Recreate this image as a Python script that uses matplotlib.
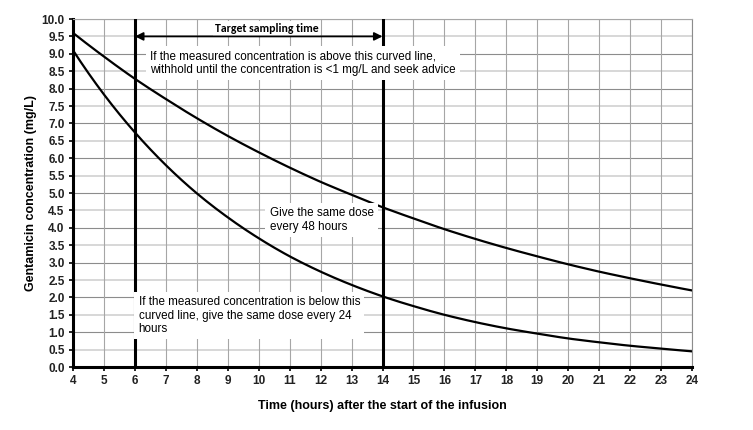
import numpy as np
import matplotlib.pyplot as plt

# hours after start of infusion
hours = [4, 5, 6, 7, 8, 9, 10, 11, 12, 13, 14, 15, 16, 17, 18, 19, 20, 21, 22, 23, 24]
# upper curve (withhold above this line)
upper = [9.60, 8.92, 8.28, 7.70, 7.15, 6.64, 6.17, 5.73, 5.32, 4.95, 4.59,
         4.27, 3.96, 3.68, 3.42, 3.18, 2.95, 2.74, 2.55, 2.37, 2.20]
# lower curve (24-hourly dosing below this line)
lower = [9.10, 7.83, 6.74, 5.80, 4.99, 4.30, 3.70, 3.18, 2.74, 2.36, 2.03,
         1.75, 1.50, 1.29, 1.11, 0.96, 0.82, 0.71, 0.61, 0.53, 0.45]
window = [6, 14]
yticks = np.arange(0, 10.01, 0.5)

plt.rcParams['font.family'] = ['Liberation Sans', 'DejaVu Sans']
fig = plt.figure(figsize=(7.53, 4.30), dpi=100)
ax = fig.add_axes([0.097, 0.1465, 0.822, 0.8093])

# smooth the curves through the read points
t = np.linspace(4, 24, 400)
up_s = np.exp(np.interp(t, hours, np.log(upper)))
lo_s = np.exp(np.interp(t, hours, np.log(lower)))
ax.plot(t, up_s, color='black', lw=1.6, zorder=3)
ax.plot(t, lo_s, color='black', lw=1.6, zorder=3)

for w in window:
    ax.axvline(w, color='black', lw=2.2, zorder=3)

ax.set_xlim(4, 24)
ax.set_ylim(0, 10)
ax.set_xticks(hours)
ax.set_yticks(yticks)
ax.set_yticklabels(['%.1f' % v for v in yticks])
for v in yticks:
    if abs(v - round(v)) < 1e-6:
        ax.axhline(v, color='#8c8c8c', lw=0.8, zorder=1)
    else:
        ax.axhline(v, color='#d4d4d4', lw=1.3, zorder=1)
for h in hours:
    ax.axvline(h, color='#a6a6a6', lw=0.8, zorder=1)

ax.spines['left'].set_linewidth(2.2)
ax.spines['bottom'].set_linewidth(2.2)
ax.spines['top'].set_color('#a6a6a6')
ax.spines['right'].set_color('#8c8c8c')
ax.spines['top'].set_linewidth(0.8)
ax.spines['right'].set_linewidth(0.8)
ax.tick_params(axis='both', length=3, width=1.2, labelsize=8.5, pad=3)
for lab in ax.get_xticklabels() + ax.get_yticklabels():
    lab.set_fontweight('bold')
    lab.set_color('#222222')

ax.set_xlabel('Time (hours) after the start of the infusion', fontsize=9,
              fontweight='bold', labelpad=9)
ax.set_ylabel('Gentamicin concentration (mg/L)', fontsize=9,
              fontweight='bold', labelpad=3)

# target sampling window arrow
ax.text(10.25, 9.72, 'Target sampling time', ha='center', va='center', fontsize=8.5,
        fontweight='bold', family=['Carlito', 'Lato', 'DejaVu Sans'],
        bbox=dict(facecolor='white', edgecolor='none', pad=1.5), zorder=4)
ax.annotate('', xy=(window[0], 9.5), xytext=(window[1], 9.5),
            arrowprops=dict(arrowstyle='<|-|>', color='black', lw=1.3,
                            mutation_scale=12, shrinkA=0, shrinkB=0), zorder=4)

box = dict(facecolor='white', edgecolor='none', pad=3)
ax.text(6.5, 8.74, 'If the measured concentration is above this curved line,\n'
        'withhold until the concentration is <1 mg/L and seek advice',
        ha='left', va='center', fontsize=8.4, linespacing=1.15, bbox=box, zorder=4)
ax.text(10.35, 4.22, 'Give the same dose\nevery 48 hours', ha='left', va='center',
        fontsize=8.4, linespacing=1.15, bbox=box, zorder=4)
ax.text(6.12, 1.47, 'If the measured concentration is below this\n'
        'curved line, give the same dose every 24\nhours',
        ha='left', va='center', fontsize=8.4, linespacing=1.15, bbox=box, zorder=4)

fig.savefig('out.png', dpi=100)
